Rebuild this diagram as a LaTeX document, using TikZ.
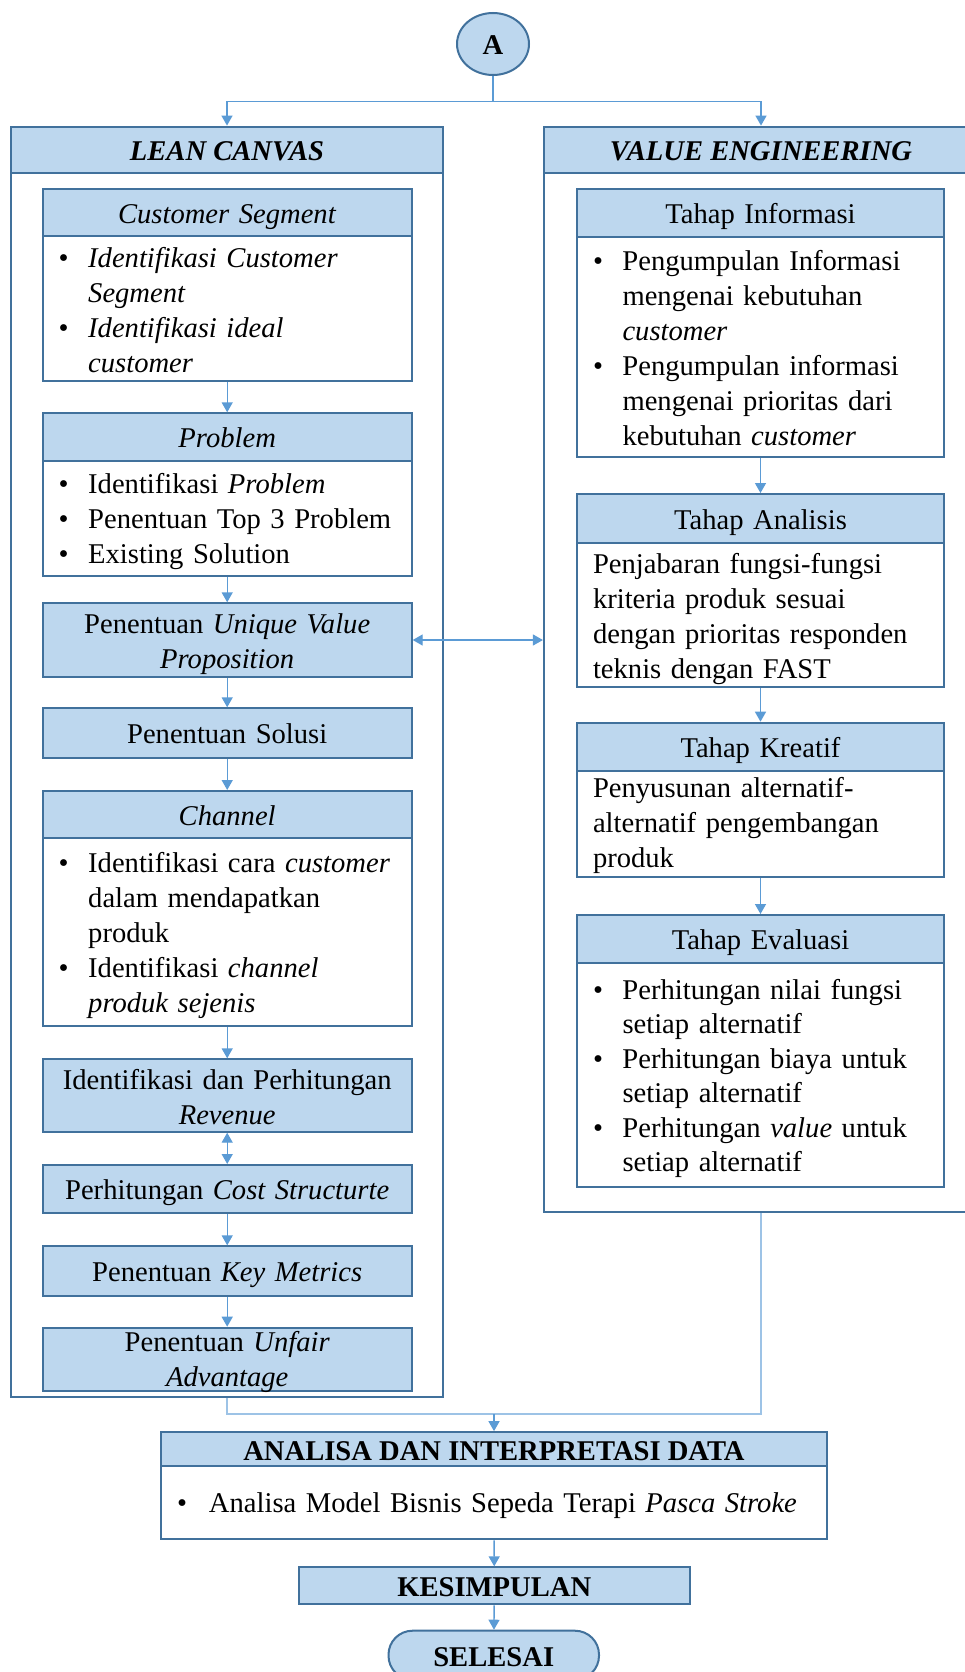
\documentclass[tikz,border=0pt]{standalone}
\usepackage{fontspec}
\setmainfont{Liberation Serif}
\usetikzlibrary{arrows.meta,shapes.geometric}

\definecolor{pale}{HTML}{BDD7EE}
\definecolor{edge}{HTML}{41719C}
\definecolor{wire}{HTML}{5B9BD5}
\definecolor{faint}{HTML}{9DC3E6}

\newcommand\mainsize{\fontsize{28.6pt}{35pt}\selectfont}
\newcommand\tightsize{\fontsize{28.6pt}{34.5pt}\selectfont}
% bullet paragraph with hanging indent
\newcommand\bul[2][29.5pt]{\hangindent=#1\hangafter=1\noindent\makebox[#1][l]{\textbullet}#2\par}

\begin{document}
\begin{tikzpicture}[x=1pt,y=-1pt,
  hdr/.style={draw=edge, fill=pale, line width=2pt, inner xsep=4pt, inner ysep=0pt, align=center, font=\mainsize},
  body/.style={draw=edge, fill=white, line width=2pt, inner xsep=16pt, inner ysep=0pt, align=left, font=\mainsize},
  frame/.style={draw=edge, fill=white, line width=2.2pt, inner sep=0pt},
  lhdr/.style={hdr, minimum width=369pt, text width=361pt},
  rhdr/.style={hdr, minimum width=367pt, text width=359pt},
  lbody/.style={body, minimum width=369pt, text width=337pt},
  rbody/.style={body, minimum width=367pt, text width=335pt},
  % first baseline below the top edge, and the rest of the height
  tb/.style 2 args={text height=#1, text depth=#2},
  oneline/.style={text height=25pt, text depth=3pt},
  link/.style={draw=wire, line width=1.4pt},
  faintlink/.style={draw=faint, line width=1.6pt},
  arrow/.style={link, -{Triangle[width=11pt,length=10pt]}},
  biarrow/.style={link, {Triangle[width=11pt,length=10pt]}-{Triangle[width=11pt,length=10pt]}},
]
\useasboundingbox (0,0) rectangle (965,1672);
\fill[white] (0,0) rectangle (965,1672);
\clip (0,0) rectangle (965,1672);

% start connector
\node[ellipse, draw=edge, fill=pale, line width=2pt, minimum width=72pt, minimum height=62pt,
      inner sep=0pt, oneline, font=\mainsize\bfseries] (A) at (493,44) {A};

% ---------------- LEAN CANVAS ----------------
\node[frame, minimum width=432.6pt, minimum height=1270pt] (lcbig) at (227,761.7) {};
\node[hdr, line width=2.2pt, inner xsep=0pt, minimum width=432.6pt, minimum height=46.6pt, oneline,
      font=\mainsize\bfseries\itshape] (lchdr) at (227,150) {LEAN CANVAS};

\node[lhdr, tb={34.3pt}{12.7pt}] (cshdr) at (227.2,212.5) {\textit{Customer Segment}};
\node[lbody, tb={31.3pt}{113.4pt}] (csbody) at (227.2,308.35) {%
  \bul{\textit{Identifikasi Customer}\newline\textit{Segment}}%
  \bul{\textit{Identifikasi ideal}\newline\textit{customer}}};

\node[lhdr, tb={34.65pt}{13.05pt}] (prhdr) at (227.2,437.15) {\textit{Problem}};
\node[lbody, tb={32.3pt}{82.4pt}] (prbody) at (227.2,518.35) {%
  \bul{Identifikasi \textit{Problem}}%
  \bul{Penentuan Top 3 Problem}%
  \bul{Existing Solution}};

\node[lhdr, tb={30pt}{43.4pt}] (uvp) at (227.2,640) {Penentuan \textit{Unique Value}\\\textit{Proposition}};
\node[lhdr, tb={35.5pt}{13.9pt}] (sol) at (227.2,733) {Penentuan Solusi};

\node[lhdr, tb={34.45pt}{12.85pt}] (chhdr) at (227.2,814.65) {\textit{Channel}};
\node[lbody, tb={34.4pt}{153.3pt}] (chbody) at (227.2,932.15) {%
  \bul{Identifikasi cara \textit{customer}\newline dalam mendapatkan\newline produk}%
  \bul{Identifikasi \textit{channel}\newline\textit{produk sejenis}}};

\node[lhdr, tb={29.7pt}{42.7pt}] (rev) at (227.2,1095.5) {Identifikasi dan Perhitungan\\\textit{Revenue}};
\node[lhdr, tb={34.8pt}{13.2pt}] (cost) at (227.2,1189) {Perhitungan \textit{Cost Structurte}};
\node[lhdr, tb={35.5pt}{13.9pt}] (km) at (227.2,1271) {Penentuan \textit{Key Metrics}};
\node[lhdr, tb={24pt}{39.3pt}] (ua) at (227.2,1359.35) {Penentuan \textit{Unfair}\\\textit{Advantage}};

% ---------------- VALUE ENGINEERING ----------------
\node[frame, minimum width=434pt, minimum height=1085pt] (vebig) at (761,669.2) {};
\node[hdr, line width=2.2pt, inner xsep=0pt, minimum width=434pt, minimum height=46.6pt, oneline,
      font=\mainsize\bfseries\itshape] (vehdr) at (761,150) {VALUE ENGINEERING};

\node[rhdr, tb={34.65pt}{13.05pt}] (infohdr) at (760.5,212.85) {Tahap Informasi};
\node[rbody, tb={33.3pt}{186.7pt}] (infobody) at (760.5,346.7) {%
  \bul{Pengumpulan Informasi\newline mengenai kebutuhan\newline\textit{customer}}%
  \bul{Pengumpulan informasi\newline mengenai prioritas dari\newline kebutuhan \textit{customer}}};

\node[rhdr, tb={35.15pt}{13.55pt}] (ahdr) at (760.5,518.35) {Tahap Analisis};
\node[rbody, tb={30.6pt}{114pt}] (abody) at (760.5,615) {%
  Penjabaran fungsi-fungsi\newline kriteria produk sesuai\newline dengan prioritas responden\newline teknis dengan FAST};

\node[rhdr, tb={34.8pt}{13.2pt}] (khdr) at (760.5,746.7) {Tahap Kreatif};
\node[rbody, tb={27pt}{79pt}] (kbody) at (760.5,823.7) {%
  Penyusunan alternatif-\newline alternatif pengembangan\newline produk};

\node[rhdr, tb={34.95pt}{13.35pt}] (ehdr) at (760.5,939.15) {Tahap Evaluasi};
\node[rbody, tb={36pt}{188pt}, font=\tightsize] (ebody) at (760.5,1075.3) {%
  \bul{Perhitungan nilai fungsi\newline setiap alternatif}%
  \bul{Perhitungan biaya untuk\newline setiap alternatif}%
  \bul{Perhitungan \textit{value} untuk\newline setiap alternatif}};

% ---------------- closing steps ----------------
\node[hdr, inner xsep=0pt, minimum width=666pt, minimum height=34pt, oneline, font=\mainsize\bfseries] (dathdr) at (494,1449.15)
  {ANALISA DAN INTERPRETASI DATA};
\node[body, minimum width=666pt, text width=634pt, tb={46.3pt}{27pt}] (datbody) at (494,1502.65) {%
  \bul[32pt]{Analisa Model Bisnis Sepeda Terapi \textit{Pasca Stroke}}};
\node[hdr, inner xsep=0pt, minimum width=391.4pt, minimum height=37pt, oneline, font=\mainsize\bfseries] (kes) at (494.3,1585.8) {KESIMPULAN};
\node[hdr, inner xsep=0pt, rounded corners=24pt, minimum width=210.5pt, minimum height=49pt, oneline,
      font=\mainsize\bfseries] (sel) at (493.75,1655.2) {SELESAI};

% ---------------- connectors ----------------
\coordinate (split) at (493,101.7);
\draw[link] (A.south) -- (split);
\draw[arrow] (split) -| (lchdr.north);
\draw[arrow] (split) -| (vehdr.north);

\draw[arrow] (csbody) -- (prhdr);
\draw[arrow] (prbody) -- (uvp);
\draw[arrow] (uvp) -- (sol);
\draw[arrow] (sol) -- (chhdr);
\draw[arrow] (chbody) -- (rev);
\draw[biarrow] (rev) -- (cost);
\draw[arrow] (cost) -- (km);
\draw[arrow] (km) -- (ua);

\draw[arrow] (infobody) -- (ahdr);
\draw[arrow] (abody) -- (khdr);
\draw[arrow] (kbody) -- (ehdr);

\draw[biarrow] (uvp.east) -- (uvp.east -| vebig.west);

\coordinate (join) at (494,1414);
\draw[faintlink] (lcbig.south) |- (join) -| (vebig.south);
\draw[arrow] (join) -- (dathdr.north);
\draw[arrow] (datbody) -- (kes);
\draw[arrow] (kes) -- (sel);
\end{tikzpicture}
\end{document}
